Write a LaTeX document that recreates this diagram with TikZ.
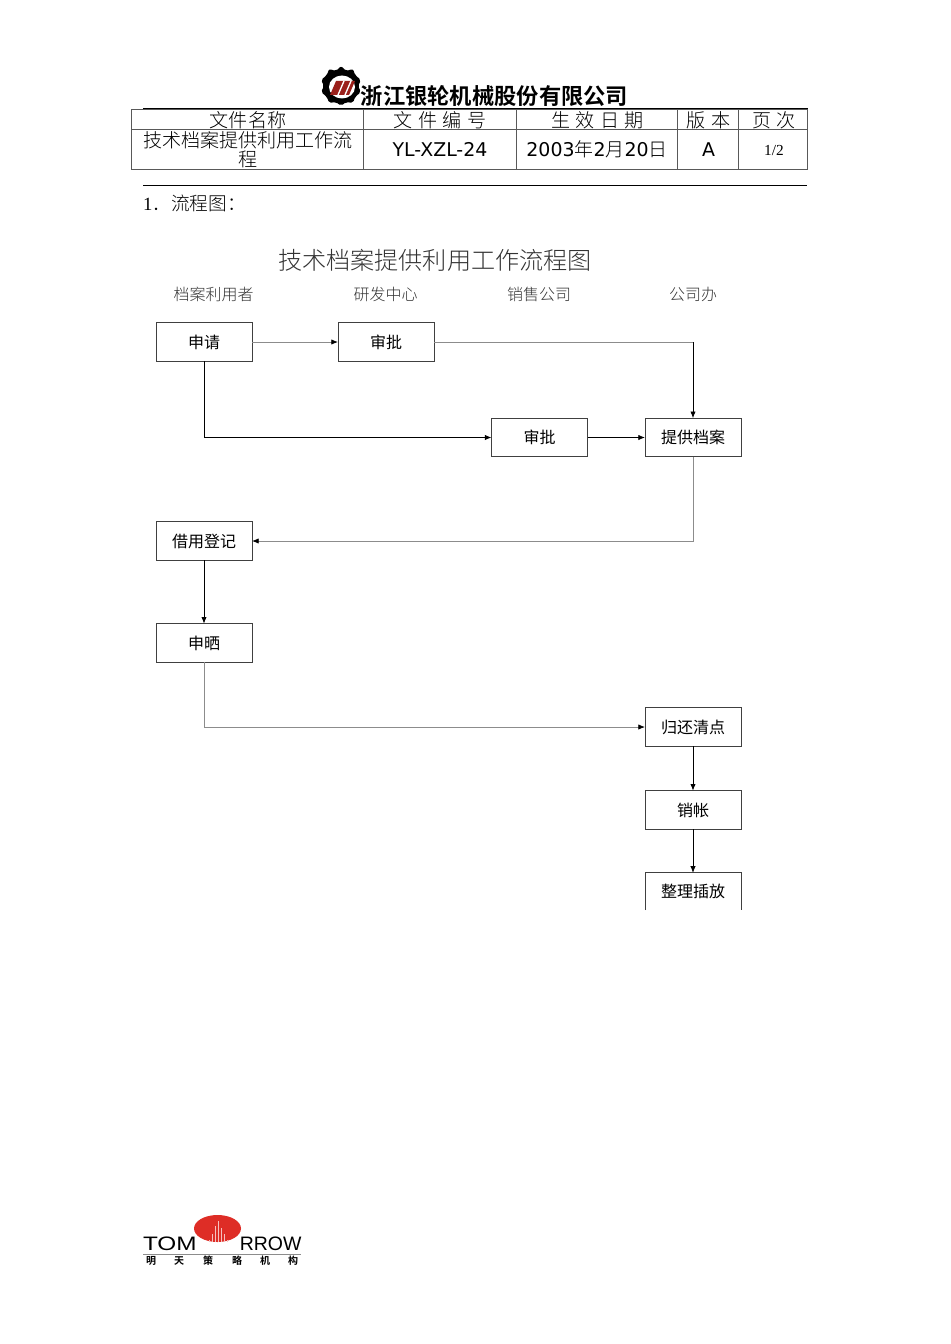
\documentclass[tikz,border=0pt]{standalone}
\usepackage{fontspec}
\setmainfont{Liberation Serif}
\newfontfamily\cjk{Noto Sans CJK SC}
\newfontfamily\cjklight{Noto Sans CJK SC Light}
\newfontfamily\cjkbold{Noto Sans CJK SC Bold}
\newfontfamily\dejavu{DejaVu Sans}
\newfontfamily\heros{Liberation Sans}
\usetikzlibrary{arrows.meta}
\definecolor{lineGray}{gray}{0.55}
\definecolor{logoRed}{RGB}{222,45,38}
\newcommand{\bt}[1]{\raisebox{0.9pt}{#1}}
\tikzset{
  every node/.style={inner sep=0pt,outer sep=0pt,text=black},
  flowbox/.style={draw=black!75,line width=0.7pt,minimum width=72pt,minimum height=29pt,font=\cjk\fontsize{12}{12}\selectfont},
  opentext/.style={minimum width=72pt,minimum height=28pt,font=\cjk\fontsize{12}{12}\selectfont},
  lane/.style={font=\cjklight\fontsize{12}{12}\selectfont,text=black!80},
  cell/.style={font=\cjklight\fontsize{14.3}{14.3}\selectfont},
  dark/.style={draw=black,line width=0.6pt,-{Latex[length=5pt,width=4pt]}},
  pale/.style={draw=lineGray,line width=0.6pt,-{Latex[length=5pt,width=4pt,color=black]}},
  paleline/.style={draw=lineGray,line width=0.6pt},
  grid/.style={draw=black!65,line width=0.7pt},
  rule/.style={draw=black,line width=0.75pt}
}
\begin{document}
\begin{tikzpicture}[x=0.75pt,y=-0.75pt]
\useasboundingbox (0,0) rectangle (950,1344);
% header logo
\fill[black,rounded corners=1.5pt] (341,66) -- (346,71) -- (353,69) -- (355,75) -- (361,80) -- (358,86) -- (361,92) -- (355,97) -- (353,103) -- (346,102) -- (341,106) -- (336,102) -- (329,103) -- (327,97) -- (321,92) -- (324,86) -- (321,80) -- (327,75) -- (329,69) -- (336,71) -- cycle;
\fill[white] (342,87) ellipse (13 and 11.5);
\fill[logoRed!70!black] (330,95) -- (336,81) -- (355,81) -- (349,95) -- cycle;
\draw[white,line width=1pt] (338,95) -- (344,81) (345,95) -- (351,81);
\node[font=\cjkbold\fontsize{16.7}{16.7}\selectfont] (company) at (494.5,96) {浙江银轮机械股份有限公司};
% table
\draw[rule] (143,108.5) -- (807.5,108.5);
\draw[grid] (131.8,109.5) rectangle (807.8,169);
\draw[grid] (131.8,129.5) -- (807.8,129.5);
\foreach \c in {363.8,516.8,677.8,738.8} \draw[grid] (\c,109.5) -- (\c,169);
\node[cell] (h1) at (248,120) {文件名称};
\node[cell] (h2) at (440,120) {文\kern4pt 件\kern4pt 编\kern4pt 号};
\node[cell] (h3) at (597.5,120) {生\kern4pt 效\kern4pt 日\kern4pt 期};
\node[cell] (h4) at (708.5,120) {版\kern4pt 本};
\node[cell] (h5) at (774,120) {页\kern4pt 次};
\node[cell] (b1a) at (248,140) {技术档案提供利用工作流};
\node[cell] (b1b) at (248,159.5) {程};
\node[font=\dejavu\fontsize{14.2}{14.2}\selectfont] (b2) at (440,149.5) {YL-XZL-24};
\node (b3) at (597,149.5) {\dejavu\fontsize{14.2}{14.2}\selectfont 2003\cjklight 年\dejavu 2\cjklight 月\dejavu 20\cjklight 日};
\node[font=\dejavu\fontsize{14.2}{14.2}\selectfont] (b4) at (708.5,149.5) {A};
\node[font=\fontsize{11.5}{11.5}\selectfont] (b5) at (774,150.5) {1/2};
\draw[rule] (143,186) -- (807,186);
\node[anchor=west,font=\cjklight\fontsize{14}{14}\selectfont] (sec) at (143,203) {{\rmfamily\fontsize{14}{14}\selectfont 1}．流程图：};
% chart title
\node[font=\cjklight\fontsize{18.1}{18.1}\selectfont,text=black!80] (title) at (435,260) {技术档案提供利用工作流程图};
\node[lane] (l1) at (213.5,294) {档案利用者};
\node[lane] (l2) at (385.5,294) {研发中心};
\node[lane] (l3) at (539,294) {销售公司};
\node[lane] (l4) at (693,294) {公司办};
% boxes
\node[flowbox] (apply) at (204,342) {\bt{申请}};
\node[flowbox] (rev1) at (386,342) {\bt{审批}};
\node[flowbox] (rev2) at (539.5,437.5) {\bt{审批}};
\node[flowbox] (supply) at (693,437.5) {\bt{提供档案}};
\node[flowbox] (borrow) at (204,541) {\bt{借用登记}};
\node[flowbox] (sun) at (204,643) {\bt{申晒}};
\node[flowbox] (ret) at (693,727) {\bt{归还清点}};
\node[flowbox] (cancel) at (693,810) {\bt{销帐}};
\node[opentext] (file) at (693,891.5) {\bt{整理插放}};
\draw[draw=black!75,line width=0.7pt] (file.south west) -- (file.north west) -- (file.north east) -- (file.south east);
% connectors
\draw[pale] (apply) -- (rev1);
\coordinate (c1) at (rev1.east -| supply.north);
\draw[paleline] (rev1.east) -- (c1);
\draw[dark] (c1) -- (supply.north);
\draw[dark] (apply.south) |- (rev2.west);
\draw[dark] (rev2) -- (supply);
\draw[pale] (supply.south) |- (borrow.east);
\draw[dark] (borrow) -- (sun);
\draw[pale] (sun.south) |- (ret.west);
\draw[dark] (ret) -- (cancel);
\draw[dark] (cancel) -- (file);
% footer logo
\fill[logoRed] (217.5,1228.5) ellipse (23.5 and 13.5);
\foreach \a/\h in {209/1240,212/1234,215/1226,218/1221,221/1228,224/1234,227/1240}
  \draw[white!70!logoRed,line width=0.6pt] (\a,1242) -- (\a,\h);
\node[anchor=south west] (tom) at (143,1251) {\scalebox{1.25}[1]{\heros\fontsize{14.6}{14.6}\selectfont TOM}};
\node[anchor=south east] (row) at (301.5,1251) {\scalebox{1}[1]{\heros\fontsize{14.6}{14.6}\selectfont RROW}};
\draw[draw=lineGray,line width=1pt] (143,1254.5) -- (301,1254.5);
\foreach \t/\x in {明/151,天/179,策/208,略/237,机/265,构/293}
  \node[font=\cjkbold\fontsize{7.5}{7.5}\selectfont] at (\x,1261) {\t};
\end{tikzpicture}
\end{document}
